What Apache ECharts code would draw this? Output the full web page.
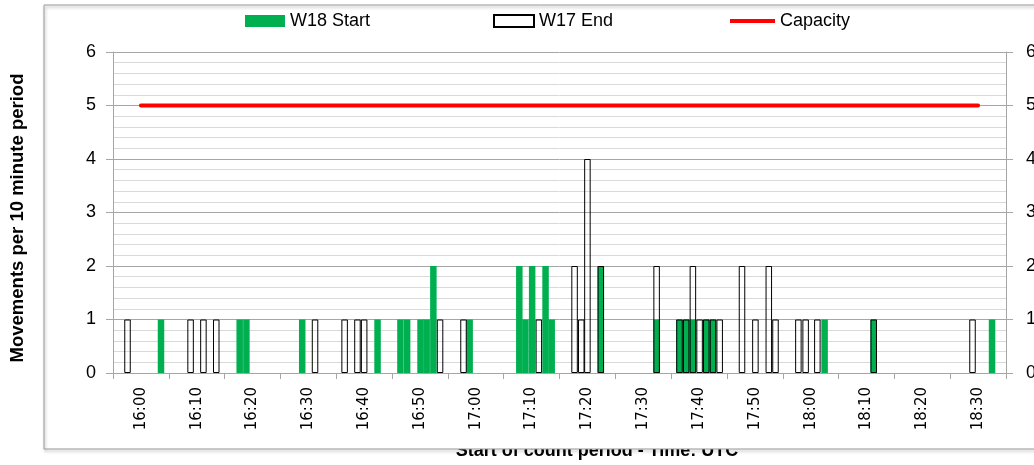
<!DOCTYPE html>
<html>
<head>
<meta charset="utf-8">
<script src="https://cdn.jsdelivr.net/npm/echarts@6/dist/echarts.min.js"></script>
<style>
  html, body { margin: 0; padding: 0; background: #ffffff; }
  #chart { width: 1034px; height: 465px; }
</style>
</head>
<body>
<div id="chart"></div>
<script>
// 10-minute period labels along the time axis
const timeLabels = ['16:00', '16:10', '16:20', '16:30', '16:40', '16:50', '17:00', '17:10',
                    '17:20', '17:30', '17:40', '17:50', '18:00', '18:10', '18:20', '18:30'];
// runway capacity per 10-minute period
const capacity = [5, 5, 5, 5, 5, 5, 5, 5, 5, 5, 5, 5, 5, 5, 5, 5];

// start of each count period, in minutes after 16:00, and its movement count
const w18Times  = [3.6, 17.7, 18.9, 28.9, 42.4, 46.5, 47.7, 50.1, 51.2, 52.4, 58.9, 67.8, 68.9,
                   70.1, 72.5, 73.6, 82.4, 92.4, 96.5, 97.7, 98.9, 101.3, 102.5, 122.5, 131.3, 152.5];
const w18Counts = [1, 1, 1, 1, 1, 1, 1, 1, 1, 2, 1, 2, 1,
                   2, 2, 1, 2, 1, 1, 1, 1, 1, 1, 1, 1, 1];

const w17Times  = [-2.4, 8.9, 11.2, 13.5, 31.2, 36.5, 38.8, 40.0, 53.6, 57.8, 71.3, 77.7, 78.9,
                   80.0, 82.4, 92.4, 96.5, 97.7, 98.9, 100.1, 101.3, 102.5, 103.7, 107.7, 110.1,
                   112.5, 113.7, 117.8, 119.1, 121.2, 131.3, 149.0];
const w17Counts = [1, 1, 1, 1, 1, 1, 1, 1, 1, 1, 1, 2, 1,
                   4, 2, 2, 1, 1, 2, 1, 1, 1, 1, 2, 1,
                   2, 1, 1, 1, 1, 1, 1];

const pairs = (xs, ys) => xs.map((x, i) => [x, ys[i]]);

const baseFont = 'Liberation Sans';
const axisGrey = '#a6a6a6';
const legendText = { fontFamily: baseFont, fontSize: 18, color: '#000' };

const chart = echarts.init(document.getElementById('chart'));
chart.setOption({
  animation: false,
  backgroundColor: '#ffffff',
  grid: { left: 113, right: 28, top: 52, bottom: 92, containLabel: false, outerBoundsMode: 'none' },
  legend: [
    { data: [{ name: 'W18 Start', icon: 'rect' }], left: 245, top: 12, padding: 0, itemWidth: 40, itemHeight: 12,
      itemGap: 0, selectedMode: false, textStyle: legendText },
    { data: [{ name: 'W17 End', icon: 'rect' }], left: 493, top: 12, padding: 0, itemWidth: 40, itemHeight: 12,
      itemGap: 0, selectedMode: false, textStyle: legendText },
    { data: [{ name: 'Capacity', icon: 'rect' }], left: 730, top: 12, padding: 0, itemWidth: 45, itemHeight: 4,
      itemGap: 0, selectedMode: false, textStyle: legendText }
  ],
  xAxis: [
    {
      type: 'category',
      data: timeLabels,
      boundaryGap: true,
      axisLine: { show: true, onZero: false, lineStyle: { color: axisGrey } },
      axisTick: { show: true, interval: 0, length: 6, lineStyle: { color: axisGrey } },
      axisLabel: { interval: 0, rotate: 90, margin: 14, fontFamily: 'DejaVu Sans', fontSize: 15, color: '#000' },
      splitLine: { show: false }
    },
    { type: 'value', min: -5, max: 155, show: false }
  ],
  yAxis: [
    {
      type: 'value', min: 0, max: 6, interval: 1,
      axisLine: { show: true, onZero: false, lineStyle: { color: axisGrey } },
      axisTick: { show: true, length: 7, lineStyle: { color: axisGrey } },
      axisLabel: { margin: 17, fontFamily: baseFont, fontSize: 18, color: '#000' },
      splitLine: { show: true, lineStyle: { color: axisGrey } },
      minorTick: { show: false, splitNumber: 5 },
      minorSplitLine: { show: true, lineStyle: { color: '#d9d9d9' } }
    },
    {
      type: 'value', min: 0, max: 6, interval: 1, position: 'right',
      axisLine: { show: true, onZero: false, lineStyle: { color: axisGrey } },
      axisTick: { show: true, length: 7, lineStyle: { color: axisGrey } },
      axisLabel: { margin: 20, fontFamily: baseFont, fontSize: 18, color: '#000' },
      splitLine: { show: false }
    }
  ],
  series: [
    {
      name: 'W18 Start', type: 'bar', xAxisIndex: 1, yAxisIndex: 0,
      barWidth: 6.5, barGap: '-100%',
      itemStyle: { color: '#00b050' },
      data: pairs(w18Times, w18Counts)
    },
    {
      name: 'W17 End', type: 'bar', xAxisIndex: 1, yAxisIndex: 0,
      barWidth: 6.5, barGap: '-100%',
      itemStyle: { color: 'rgba(255,255,255,0)', borderColor: '#000', borderWidth: 1 },
      data: pairs(w17Times, w17Counts)
    },
    {
      name: 'Capacity', type: 'line', xAxisIndex: 0, yAxisIndex: 0,
      symbol: 'none', z: 4,
      itemStyle: { color: '#ff0000' },
      lineStyle: { color: '#ff0000', width: 4, cap: 'round' },
      data: capacity
    }
  ],
  graphic: [
    {
      type: 'text', x: 597, y: 451, z: 0,
      style: { text: 'Start of count period - Time: UTC', fontFamily: baseFont, fontSize: 18,
               fontWeight: 'bold', fill: '#000', align: 'center', verticalAlign: 'middle' }
    },
    {
      type: 'rect', z: 1,
      shape: { x: 400, y: 437, width: 400, height: 12 },
      style: { fill: '#ffffff' }
    },
    {
      type: 'rect', z: 2,
      shape: { x: 44, y: 5, width: 1100, height: 444 },
      style: { fill: 'none', stroke: '#9a9a9a', lineWidth: 1,
               shadowBlur: 3, shadowOffsetX: 1, shadowOffsetY: 2, shadowColor: 'rgba(0,0,0,0.35)' }
    },
    {
      type: 'text', x: 18, y: 218, rotation: Math.PI / 2, z: 2,
      style: { text: 'Movements per 10 minute period', fontFamily: baseFont, fontSize: 18.5,
               fontWeight: 'bold', fill: '#000', align: 'center', verticalAlign: 'middle' }
    }
  ]
});
</script>
</body>
</html>
